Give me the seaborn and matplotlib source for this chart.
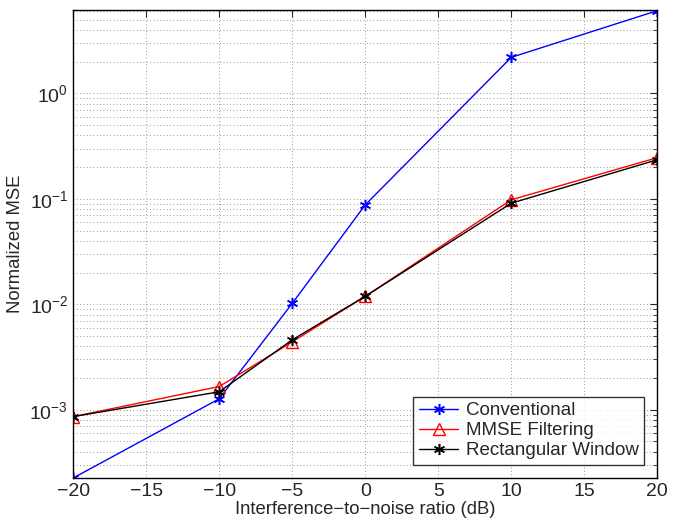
import numpy as np
import matplotlib
matplotlib.use("Agg")
import matplotlib.pyplot as plt
import seaborn as sns
import pandas as pd

inr_db = [-20, -10, -5, 0, 10, 20]
mse_conventional = [2.25e-4, 1.27e-3, 1.02e-2, 0.0877, 2.2, 6.1]
mse_mmse = [8.6e-4, 1.66e-3, 4.4e-3, 0.0119, 0.098, 0.246]
mse_rect = [8.6e-4, 1.48e-3, 4.6e-3, 0.0119, 0.091, 0.235]

sns.set_style("white")
plt.rcParams['font.family'] = ['Liberation Sans', 'DejaVu Sans']
plt.rcParams['mathtext.fontset'] = 'custom'
plt.rcParams['mathtext.rm'] = 'Liberation Sans'

df = pd.DataFrame({'x': inr_db, 'Conventional': mse_conventional,
                   'MMSE Filtering': mse_mmse, 'Rectangular Window': mse_rect})

fig = plt.figure(figsize=(6.84, 5.21), dpi=100)
ax = fig.add_axes([0.107, 0.0825, 0.854, 0.8985])

star = (6, 2, 0)
sns.lineplot(data=df, x='x', y='Conventional', ax=ax, color='blue', lw=1,
             marker=star, markersize=8, markeredgecolor='blue', markeredgewidth=1.1,
             label='Conventional')
sns.lineplot(data=df, x='x', y='MMSE Filtering', ax=ax, color='red', lw=1,
             marker='^', markersize=8.5, markerfacecolor='none', markeredgecolor='red',
             markeredgewidth=1, label='MMSE Filtering')
sns.lineplot(data=df, x='x', y='Rectangular Window', ax=ax, color='black', lw=1,
             marker=star, markersize=8, markeredgecolor='black', markeredgewidth=1.1,
             label='Rectangular Window')

ax.set_yscale('log')
ax.set_xlim(-20, 20)
ax.set_ylim(2.25e-4, 6.2)
ax.set_xticks([-20, -15, -10, -5, 0, 5, 10, 15, 20])
ax.set_xticklabels(['\u221220', '\u221215', '\u221210', '\u22125', '0', '5', '10', '15', '20'])
ax.grid(True, which='major', axis='both', color='#777777', linestyle=(0, (1, 3)), lw=0.6)
ax.grid(True, which='minor', axis='y', color='#777777', linestyle=(0, (1, 3)), lw=0.6)
ax.tick_params(which='both', direction='in', top=True, right=True, labelsize=14)
ax.tick_params(which='major', length=5)
ax.tick_params(which='minor', length=3)
for s in ax.spines.values():
    s.set_color('black')
    s.set_linewidth(1)

ax.set_xlabel('Interference\u2212to\u2212noise ratio (dB)', fontsize=13.3, labelpad=1)
ax.set_ylabel('Normalized MSE', fontsize=13.3, labelpad=4)

leg = ax.legend(loc='lower right', fontsize=13.5, frameon=True, fancybox=False,
                borderaxespad=0.7, handlelength=2.1, borderpad=0.3, labelspacing=0.15,
                handletextpad=0.4)
leg.get_frame().set_edgecolor('black')
leg.get_frame().set_linewidth(1)

fig.savefig('out.png', dpi=100)
